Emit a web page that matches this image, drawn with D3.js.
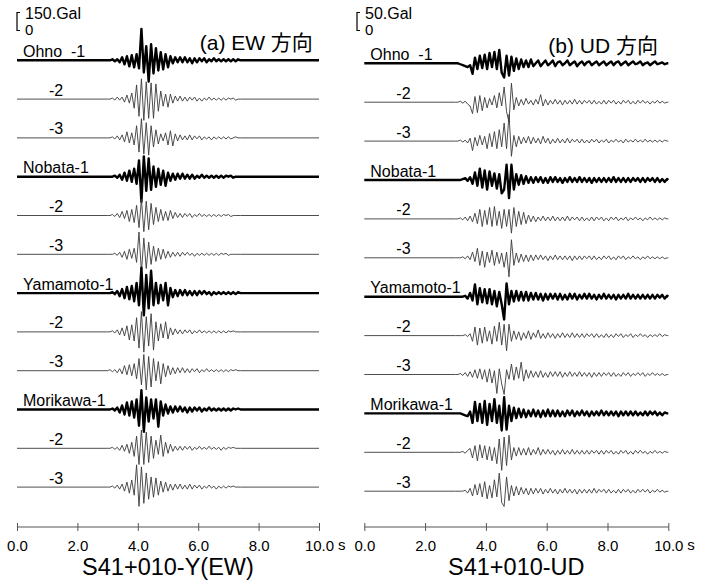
<!DOCTYPE html>
<html>
<head>
<meta charset="utf-8">
<script src="https://cdn.jsdelivr.net/npm/d3@7"></script>
<style>
  body { margin: 0; background: #fff; }
  svg { display: block; font-family: 'Liberation Sans', Arial, sans-serif; }
</style>
</head>
<body>
<div id="chart"></div>
<script>
// record labels, top to bottom
const traceLabels = ['Ohno\u00a0\u00a0-1', '-2', '-3', 'Nobata-1', '-2', '-3', 'Yamamoto-1', '-2', '-3', 'Morikawa-1', '-2', '-3']
const timeTicks = [0, 2, 4, 6, 8, 10]
const ewScaleGal = 150
const udScaleGal = 50

// samples, in Gal, every 0.08 s starting at 3.0 s (zero before / after)
const startTime = 3.0
const sampleStep = 0.08

const ewOhno1 = [0,0,8,-8,8,-16,24,-32,32,-48,40,-56,48,-64,248,-96,112,-168,128,-104,96,-80,64,-72,48,-56,32,-24,24,-16,24,-16,24,-16,16,-24,16,-16,16,-8,16,-16,8,-8,16,-8,8,-8,8,-8,8,-8,8,-8,8,0]
const ewOhno2 = [0,0,8,-8,16,-8,16,-24,32,-32,48,-72,112,-136,160,-168,136,-152,128,-152,120,-96,64,-56,40,-64,40,-32,24,-16,24,-16,16,-16,16,-8,16,-16,8,-16,8,-8,16,-8,8,-8,8,-8,8,-8,8,0,8,-8,0,0]
const ewOhno3 = [0,0,8,-8,16,-16,24,-32,48,-40,40,-56,96,-112,152,-128,120,-136,96,-72,64,-48,32,-24,40,-56,56,-64,32,-24,24,-16,16,-16,24,-16,16,-8,16,-16,8,-8,8,-16,8,-8,8,-8,8,-8,8,-8,0,8,0,0]
const ewNobata1 = [0,0,0,8,-8,16,-24,32,-32,48,-40,64,-56,128,-200,160,-112,144,-104,80,-80,64,-64,48,-72,32,-32,24,-24,24,-16,24,-16,16,-16,16,-16,8,-8,16,-8,8,-8,8,-8,8,-8,8,-8,8,0,8,-8,0,0,0]
const ewNobata2 = [0,0,8,-8,16,-16,32,-24,40,-48,48,-56,80,-96,128,-128,112,-112,96,-72,64,-48,48,-40,32,-40,40,-24,24,-16,16,-16,16,-8,16,-16,8,-8,16,-8,8,-8,8,-8,8,-8,8,-8,8,0,8,-8,0,0,0,0]
const ewNobata3 = [0,0,0,8,-8,16,-24,24,-40,40,-32,48,-64,176,-144,128,-112,96,-80,64,-56,48,-40,40,-32,24,-24,16,-16,16,-16,16,-8,16,-8,8,-16,8,-8,8,-8,8,-8,8,-8,8,-8,8,0,8,-8,0,0,0,0,0]
const ewYamamoto1 = [0,0,8,-8,16,-24,32,-40,48,-48,56,-64,80,-96,200,-176,144,-120,176,-96,80,-80,64,-56,80,-96,40,-32,24,-24,24,-16,24,-16,16,-16,16,-16,16,-8,16,-8,8,-16,8,-8,8,-8,8,-8,8,-8,8,-8,8,0]
const ewYamamoto2 = [0,0,8,-8,16,-24,32,-32,48,-64,56,-72,112,-128,160,-160,120,-112,144,-144,80,-72,64,-48,80,-56,32,-24,24,-16,16,-16,16,-8,16,-16,8,-8,16,-8,8,-8,8,-8,8,-8,8,-8,8,-8,8,0,8,0,0,0]
const ewYamamoto3 = [0,8,-8,8,-16,16,-24,40,-32,48,-40,56,-64,96,-112,128,-152,112,-128,96,-80,72,-104,56,-48,40,-32,24,-24,24,-16,24,-16,16,-16,16,-8,16,-16,8,-8,16,-8,8,-8,8,-8,8,-8,8,-8,8,0,8,0,0]
const ewMorikawa1 = [0,0,8,-8,16,-24,32,-40,56,-48,64,-64,80,-128,152,-176,96,-96,80,-72,80,-136,64,-48,40,-32,24,-24,24,-16,24,-16,16,-24,16,-16,16,-8,16,-16,8,-8,16,-8,8,-8,8,-8,8,-8,8,-8,8,0,8,0]
const ewMorikawa2 = [0,0,8,-8,8,-16,24,-24,32,-40,48,-64,96,-128,144,-128,128,-112,96,-80,64,-48,104,-64,48,-40,32,-24,16,-16,16,-16,16,-8,16,-16,8,-8,16,-8,8,-8,16,-8,8,-8,8,-16,8,-8,8,0,8,0,0,0]
const ewMorikawa3 = [0,0,8,-8,16,-16,24,-32,40,-48,56,-64,176,-152,160,-128,112,-96,80,-80,72,-64,48,-40,40,-32,24,-24,24,-16,24,-16,16,-16,24,-16,16,-8,16,-16,8,-8,16,-8,8,-16,8,-8,8,-8,8,0,8,0,0,0]

const udOhno1 = [0,0,-2.5,-5,-7.5,-10,-5,-27.5,15,-15,20,-12.5,22.5,-15,27.5,-10,30,-15,35,-25,-37.5,20,-32.5,17.5,-20,12.5,-15,10,-10,7.5,-10,10,
  -7.5,0,7.5,-7.5,0,7.5,-5,0,7.5,-7.5,2.5,5,-5,0,7.5,-5,0,5,-7.5,0,5,-5,2.5,5,-5,0,5,-5,0,5,-5,0,5,-5,2.5,5,-5,0,5,-5,0,5,-2.5,0,5,-5,0,2.5,-5,0,5,-2.5,0,2.5,-2.5,0]
const udOhno2 = [0,0,2.5,-2.5,2.5,-5,-10,-30,15,-27.5,17.5,-22.5,12.5,-15,10,-7.5,17.5,-15,25,-10,40,-25,-52.5,50,-20,12.5,-10,7.5,-7.5,10,-5,5,
  -7.5,7.5,-5,20,-10,7.5,-7.5,5,-5,7.5,-5,5,-7.5,5,-5,5,-5,7.5,-5,5,-5,5,-2.5,5,-5,5,-5,2.5,-5,5,-5,5,-2.5,5,-5,2.5,-5,5,-2.5,5,-5,2.5,-5,5,-2.5,5,-2.5,2.5,-5,2.5,-2.5,5,-2.5,2.5,-2.5,0]
const udOhno3 = [0,0,2.5,-2.5,2.5,-5,7.5,-25,10,-12.5,15,-10,12.5,-20,20,-15,25,-20,30,-15,47.5,-20,70,-40,15,-15,12.5,-7.5,10,-5,12.5,-7.5,
  10,-5,7.5,-7.5,12.5,-5,7.5,-7.5,5,-5,7.5,-5,5,-5,7.5,-5,5,-2.5,5,-5,5,-5,2.5,-5,5,-2.5,5,-5,2.5,-2.5,5,-5,2.5,-2.5,5,-2.5,2.5,-5,5,-2.5,2.5,-2.5,5,-2.5,2.5,-2.5,5,-2.5,2.5,-2.5,2.5,-2.5,2.5,-2.5,2.5,0]
const udNobata1 = [0,0,0,2.5,5,-2.5,7.5,-10,20,-15,30,-20,25,-25,22.5,-15,17.5,-22.5,15,-35,-25,40,-47.5,40,-25,15,-12.5,12.5,-10,10,-7.5,7.5,
  -7.5,7.5,-5,7.5,-7.5,5,-7.5,7.5,-5,7.5,-5,5,-7.5,5,-5,7.5,-5,5,-5,7.5,-5,5,-5,5,-7.5,5,-5,5,-5,5,-5,5,-5,7.5,-5,5,-5,5,-5,5,-5,5,-2.5,5,-5,5,-5,5,-2.5,5,-5,5,-5,2.5,-5,2.5]
const udNobata2 = [0,0,2.5,-2.5,5,-5,7.5,-7.5,15,-12.5,25,-20,22.5,-15,30,-20,32.5,-17.5,20,-25,25,-20,25,-37.5,30,-20,20,-15,17.5,-12.5,10,-7.5,
  7.5,-7.5,5,-5,7.5,-5,5,-5,7.5,-5,5,-5,5,-5,7.5,-5,5,-2.5,5,-5,5,-5,2.5,-5,5,-5,5,-2.5,5,-5,2.5,-5,5,-2.5,5,-5,2.5,-2.5,5,-5,2.5,-2.5,5,-2.5,2.5,-5,2.5,-2.5,5,-2.5,2.5,-2.5,2.5,-2.5,2.5,0]
const udNobata3 = [0,0,0,2.5,-2.5,5,-5,15,-10,25,-20,17.5,-25,15,-12.5,20,-20,15,-15,12.5,-25,15,-50,47.5,-20,12.5,-12.5,10,-10,7.5,-10,7.5,
  -7.5,7.5,-5,7.5,-5,5,-7.5,5,-5,7.5,-5,5,-5,5,-5,5,-7.5,5,-5,5,-5,5,-2.5,5,-5,5,-5,2.5,-5,5,-2.5,5,-5,2.5,-5,5,-2.5,5,-5,2.5,-2.5,5,-2.5,2.5,-5,2.5,-2.5,5,-2.5,2.5,-2.5,2.5,-2.5,2.5,-2.5,0]
const udYamamoto1 = [0,0,0,0,2.5,-5,10,-10,32.5,-20,22.5,-15,20,-17.5,20,-20,15,-25,12.5,-20,-60,35,-20,15,-12.5,15,-10,12.5,-10,12.5,-10,10,
  -7.5,10,-7.5,7.5,-10,7.5,-7.5,7.5,-5,7.5,-7.5,7.5,-7.5,5,-7.5,7.5,-5,7.5,-7.5,5,-5,7.5,-5,7.5,-5,5,-7.5,5,-5,7.5,-5,5,-5,5,-7.5,5,-5,5,-5,7.5,-5,5,-5,5,-5,5,-5,5,-5,5,-5,5,-2.5,5,-5,2.5]
const udYamamoto2 = [0,0,0,0,2.5,-2.5,5,-15,22.5,-25,20,-20,22.5,-15,12.5,-22.5,25,-15,35,-25,30,-40,30,-15,12.5,-10,10,-12.5,7.5,-7.5,12.5,-10,
  7.5,-5,15,-7.5,5,-7.5,7.5,-5,5,-7.5,5,-5,7.5,-5,5,-5,7.5,-5,5,-5,5,-5,5,-2.5,5,-5,5,-5,2.5,-5,5,-5,2.5,-5,5,-2.5,5,-5,2.5,-2.5,5,-5,2.5,-2.5,5,-2.5,2.5,-5,2.5,-2.5,2.5,-2.5,5,-2.5,2.5,0]
const udYamamoto3 = [0,0,2.5,-2.5,5,-5,7.5,-7.5,12.5,-10,15,-12.5,12.5,-20,15,-22.5,10,-50,15,-25,-52.5,12.5,-12.5,27.5,-15,20,-10,32.5,-17.5,12.5,-10,10,
  -7.5,7.5,-7.5,10,-7.5,5,-7.5,7.5,-5,7.5,-5,7.5,-7.5,5,-5,7.5,-5,5,-5,7.5,-5,5,-5,5,-7.5,5,-5,5,-5,5,-2.5,5,-5,5,-5,2.5,-5,5,-2.5,5,-5,2.5,-2.5,5,-2.5,5,-5,2.5,-2.5,5,-2.5,2.5,-2.5,2.5,-2.5,0]
const udMorikawa1 = [0,0,0,-2.5,-5,-7.5,5,-25,30,-20,25,-25,32.5,-30,25,-20,37.5,-25,20,-45,42.5,-42.5,20,-20,15,-12.5,12.5,-10,10,-10,7.5,-7.5,
  10,-7.5,7.5,-10,7.5,-7.5,10,-7.5,7.5,-7.5,7.5,-7.5,5,-7.5,7.5,-5,7.5,-7.5,5,-5,7.5,-5,5,-7.5,5,-5,5,-5,7.5,-5,5,-5,5,-5,5,-7.5,5,-5,5,-5,5,-5,5,-5,2.5,-5,5,-5,5,-2.5,5,-5,2.5,-5,2.5,0]
const udMorikawa2 = [0,0,0,2.5,-2.5,5,10,-15,17.5,-22.5,20,-15,17.5,-20,15,-22.5,12.5,-30,35,-47.5,40,-35,45,-20,12.5,-10,12.5,-7.5,10,-7.5,12.5,-7.5,
  7.5,-5,12.5,-7.5,7.5,-5,7.5,-5,5,-7.5,5,-5,7.5,-5,5,-5,7.5,-5,5,-5,5,-5,5,-5,5,-2.5,5,-5,5,-5,5,-2.5,5,-5,2.5,-5,5,-2.5,5,-5,2.5,-5,5,-2.5,5,-2.5,2.5,-5,2.5,-2.5,5,-2.5,2.5,-2.5,2.5,0]
const udMorikawa3 = [0,0,0,0,2.5,-5,7.5,-12.5,17.5,-10,20,-15,25,-20,15,-17.5,30,-15,47.5,-30,-40,37.5,-25,15,-12.5,12.5,-10,10,-7.5,7.5,-10,7.5,
  -7.5,7.5,-5,7.5,-7.5,5,-5,7.5,-5,5,-7.5,5,-5,7.5,-5,5,-5,5,-7.5,5,-5,5,-5,5,-5,7.5,-5,5,-2.5,5,-5,5,-5,2.5,-5,5,-5,5,-2.5,5,-5,2.5,-5,5,-2.5,5,-2.5,5,-5,2.5,-2.5,5,-2.5,2.5,-2.5,0]

const ewTraces = [ewOhno1, ewOhno2, ewOhno3, ewNobata1, ewNobata2, ewNobata3, ewYamamoto1, ewYamamoto2, ewYamamoto3, ewMorikawa1, ewMorikawa2, ewMorikawa3]
const udTraces = [udOhno1, udOhno2, udOhno3, udNobata1, udNobata2, udNobata3, udYamamoto1, udYamamoto2, udYamamoto3, udMorikawa1, udMorikawa2, udMorikawa3]

const width = 709
const height = 580
const axisY = 527

const panels = [
  { traces: ewTraces, scaleGal: ewScaleGal, scaleText: '150.Gal', title: '(a) EW 方向', axisTitle: 'S41+010-Y(EW)',
    left: 17, right: 319, firstRow: 60.3, lastRow: 487.1, bracketX: 17, titleY: 49.5 },
  { traces: udTraces, scaleGal: udScaleGal, scaleText: '50.Gal', title: '(b) UD 方向', axisTitle: 'S41+010-UD',
    left: 364.3, right: 668.3, firstRow: 63.3, lastRow: 491.2, bracketX: 357, titleY: 52.5 }
]

const svg = d3
  .select('#chart')
  .append('svg')
  .attr('width', width)
  .attr('height', height)

svg.append('rect').attr('width', width).attr('height', height).attr('fill', '#fff')

function toPoints(samples) {
  const pts = [[0, 0]]
  samples.forEach((a, i) => pts.push([startTime + i * sampleStep, a]))
  pts.push([10, 0])
  return pts
}

panels.forEach(p => {
  const g = svg.append('g')

  const xPositionScale = d3.scaleLinear().domain([0, 10]).range([p.left, p.right])
  // bracket height (19 px) stands for the full scale value
  const ampScale = d3.scaleLinear().domain([-p.scaleGal, p.scaleGal]).range([19, -19])
  const rowScale = d3.scalePoint().domain(d3.range(12)).range([p.firstRow, p.lastRow])

  const line = d3
    .line()
    .x(d => xPositionScale(d[0]))
    .y(d => ampScale(d[1]))

  const rows = g
    .selectAll('.trace')
    .data(p.traces)
    .enter()
    .append('g')
    .attr('class', 'trace')
    .attr('transform', (d, i) => 'translate(0,' + rowScale(i) + ')')

  rows
    .append('path')
    .attr('d', d => line(toPoints(d)))
    .attr('fill', 'none')
    .attr('stroke', (d, i) => (i % 3 === 0 ? '#000' : '#3a3a3a'))
    .attr('stroke-width', (d, i) => (i % 3 === 0 ? 2.4 : 0.9))
    .attr('stroke-linejoin', 'round')

  rows
    .append('text')
    .text((d, i) => traceLabels[i])
    .attr('x', (d, i) => (i % 3 === 0 ? p.left + 6 : p.left + 32))
    .attr('y', -3.5)
    .attr('font-size', 16)
    .attr('fill', '#000')

  // scale bracket
  const b = p.bracketX
  g.append('path')
    .attr('d', `M${b + 3},12.5H${b}V30.5H${b + 3}`)
    .attr('fill', 'none')
    .attr('stroke', '#000')
    .attr('stroke-width', 1.2)
  g.append('text').text(p.scaleText).attr('x', b + 8).attr('y', 19).attr('font-size', 16)
  g.append('text').text('0').attr('x', b + 8).attr('y', 35).attr('font-size', 15)

  g.append('text')
    .text(p.title)
    .attr('x', xPositionScale(6.05))
    .attr('y', p.titleY)
    .attr('font-size', 21)
    .attr('font-family', "'Liberation Sans', 'Noto Sans CJK JP', sans-serif")

  // time axis
  const xAxis = d3
    .axisBottom(xPositionScale)
    .tickValues(timeTicks)
    .tickFormat(d3.format('.1f'))
    .tickSize(8)
    .tickPadding(9)

  const ax = g
    .append('g')
    .attr('transform', 'translate(0,' + (axisY - 4) + ')')
    .call(xAxis)
  ax.select('.domain').remove()
  ax.attr('font-family', null).attr('font-size', null)
  ax.selectAll('line').attr('stroke', '#555')
  ax.selectAll('text').attr('font-size', 15).attr('fill', '#000')

  g.append('line')
    .attr('x1', xPositionScale(0))
    .attr('x2', xPositionScale(10))
    .attr('y1', axisY)
    .attr('y2', axisY)
    .attr('stroke', '#555')

  g.append('text')
    .text('s')
    .attr('x', xPositionScale(10) + 19)
    .attr('y', axisY + 23)
    .attr('font-size', 15)

  g.append('text')
    .text(p.axisTitle)
    .attr('x', (p.left + p.right) / 2)
    .attr('y', 575)
    .attr('text-anchor', 'middle')
    .attr('font-size', 23.5)
})
</script>
</body>
</html>
